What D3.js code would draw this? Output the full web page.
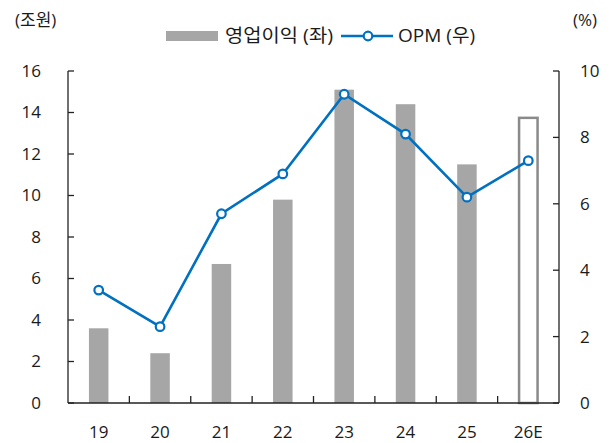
<!DOCTYPE html>
<html><head><meta charset="utf-8">
<script src="https://cdn.jsdelivr.net/npm/d3@7"></script>
<style>
body{margin:0;background:#fff;}
text{font-family:"Open Sans","Noto Sans CJK KR",sans-serif;fill:#1a1a1a;}
</style></head>
<body><svg id="c" width="611" height="443"></svg>
<script>
const categories = ["19","20","21","22","23","24","25","26E"];
const opIncome = [3.6, 2.4, 6.7, 9.8, 15.1, 14.4, 11.5, 13.8];
const opm = [3.4, 2.3, 5.7, 6.9, 9.3, 8.1, 6.2, 7.3];
const leftTicks = [0,2,4,6,8,10,12,14,16];
const rightTicks = [0,2,4,6,8,10];
const estimateIndex = 7;

const svg = d3.select("#c");
const L = 68, R = 559, T = 71, B = 403;
const x = d3.scaleBand().domain(categories).range([L, R]);
const yL = d3.scaleLinear().domain([0,16]).range([B, T]);
const yR = d3.scaleLinear().domain([0,10]).range([B, T]);
const bw = 19.5;
const fs = 17;

// bars
svg.append("g").selectAll("rect").data(opIncome).join("rect")
  .attr("x", (d,i) => x(categories[i]) + x.bandwidth()/2 - bw/2 + (i===estimateIndex?0.5:0))
  .attr("y", (d,i) => yL(d) + (i===estimateIndex?1.2:0))
  .attr("width", (d,i) => i===estimateIndex ? bw-1 : bw)
  .attr("height", (d,i) => B - yL(d) - (i===estimateIndex?1.2:0))
  .attr("fill", (d,i) => i===estimateIndex ? "none" : "#a6a6a6")
  .attr("stroke", (d,i) => i===estimateIndex ? "#8a8a8a" : "none")
  .attr("stroke-width", 2.5);

// left axis
const gl = svg.append("g").attr("transform",`translate(${L},0)`);
gl.append("line").attr("y1",T).attr("y2",B).attr("stroke","#222").attr("stroke-width",1.3);
gl.selectAll("line.t").data(leftTicks).join("line").attr("class","t")
  .attr("x1",0).attr("x2",6).attr("y1",d=>yL(d)).attr("y2",d=>yL(d)).attr("stroke","#222").attr("stroke-width",1.3);
gl.selectAll("text").data(leftTicks).join("text")
  .attr("x",-27).attr("y",d=>yL(d)).attr("dy","0.35em").attr("text-anchor","end")
  .attr("font-size",fs).text(d=>d);

// right axis
const gr = svg.append("g").attr("transform",`translate(${R},0)`);
gr.append("line").attr("y1",T).attr("y2",B).attr("stroke","#222").attr("stroke-width",1.3);
gr.selectAll("line.t").data(rightTicks).join("line").attr("class","t")
  .attr("x1",0).attr("x2",-6).attr("y1",d=>yR(d)).attr("y2",d=>yR(d)).attr("stroke","#222").attr("stroke-width",1.3);
gr.selectAll("text").data(rightTicks).join("text")
  .attr("x",21).attr("y",d=>yR(d)).attr("dy","0.35em").attr("text-anchor","start")
  .attr("font-size",fs).text(d=>d);

// bottom axis
const gb = svg.append("g");
gb.append("line").attr("x1",L).attr("x2",R).attr("y1",B).attr("y2",B).attr("stroke","#222").attr("stroke-width",1.3);
gb.selectAll("line.t").data(categories.slice(1)).join("line").attr("class","t")
  .attr("x1",d=>x(d)).attr("x2",d=>x(d)).attr("y1",B).attr("y2",B-7).attr("stroke","#222").attr("stroke-width",1.3);
gb.selectAll("text").data(categories).join("text")
  .attr("x",d=>x(d)+x.bandwidth()/2).attr("y",432).attr("dy","0.35em").attr("text-anchor","middle")
  .attr("font-size",fs).text(d=>d);

// line
const line = d3.line().x((d,i)=>x(categories[i])+x.bandwidth()/2).y(d=>yR(d));
svg.append("path").datum(opm).attr("d",line).attr("fill","none").attr("stroke","#0070c0").attr("stroke-width",2.6);
svg.append("g").selectAll("circle").data(opm).join("circle")
  .attr("cx",(d,i)=>x(categories[i])+x.bandwidth()/2).attr("cy",d=>yR(d)).attr("r",4.3)
  .attr("fill","#fff").attr("stroke","#0070c0").attr("stroke-width",2.2);

// unit labels
svg.append("text").attr("x",15).attr("y",20).attr("dy","0.35em").attr("font-size",fs).text("(조원)");
svg.append("text").attr("x",573).attr("y",20).attr("dy","0.35em").attr("font-size",fs).text("(%)");

// legend
const lg = svg.append("g");
lg.append("rect").attr("x",166).attr("y",31).attr("width",52).attr("height",10).attr("fill","#a6a6a6");
lg.append("text").attr("x",225).attr("y",36).attr("dy","0.35em").attr("font-size",18)
  .attr("textLength",108).attr("lengthAdjust","spacingAndGlyphs").text("영업이익 (좌)");
lg.append("line").attr("x1",341).attr("x2",393).attr("y1",36).attr("y2",36).attr("stroke","#0070c0").attr("stroke-width",2.6);
lg.append("circle").attr("cx",368).attr("cy",36).attr("r",4.3).attr("fill","#fff").attr("stroke","#0070c0").attr("stroke-width",2.2);
lg.append("text").attr("x",398).attr("y",36).attr("dy","0.35em").attr("font-size",18)
  .attr("textLength",77).attr("lengthAdjust","spacingAndGlyphs").text("OPM (우)");
</script></body></html>
